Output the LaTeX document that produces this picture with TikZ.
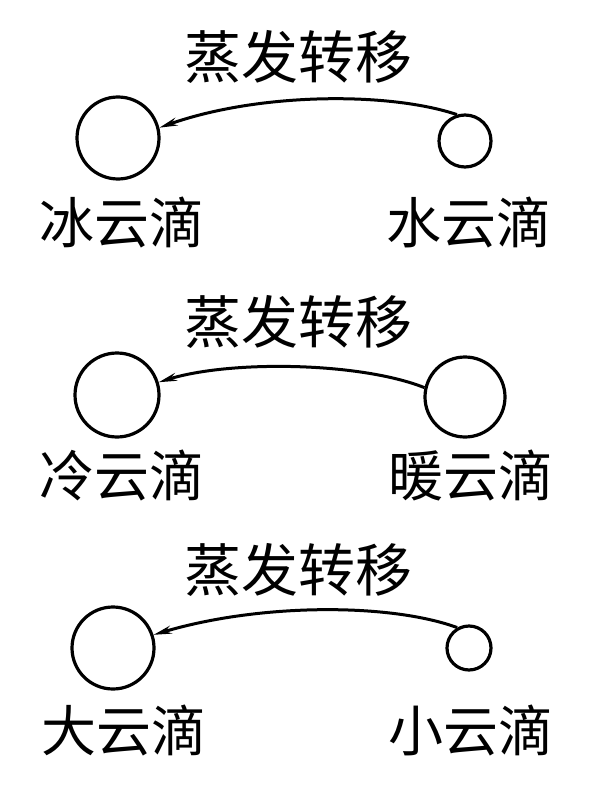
\documentclass[tikz,border=0pt]{standalone}
\usepackage{fontspec}
\newfontfamily\cjk{Noto Sans CJK SC}
\usetikzlibrary{arrows.meta}
\begin{document}
\begin{tikzpicture}[x=1pt,y=-1pt,
  drop/.style={circle,draw,line width=3.2pt,inner sep=0pt,minimum size=#1},
  lbl/.style={inner sep=0pt,font=\cjk\fontsize{55}{55}\selectfont},
  ttl/.style={inner sep=0pt,font=\cjk\fontsize{57}{57}\selectfont},
  flow/.style={line width=3pt,-{Stealth[length=18pt,width=8pt]}}]
\useasboundingbox[fill=white] (0,0) rectangle (598,786);
% panel 1
\node[ttl] (t1) at (298,57) {蒸发转移};
\node[drop=82pt] (a1) at (118,138) {};
\node[drop=52pt] (b1) at (465,141) {};
\node[lbl] (la1) at (122,222) {冰云滴};
\node[lbl] (lb1) at (469,222) {水云滴};
\draw[flow] (b1.107) .. controls (390,92) and (260,92) .. (a1.14);
% panel 2
\node[ttl] (t2) at (298,322) {蒸发转移};
\node[drop=84pt] (a2) at (117,395) {};
\node[drop=80pt] (b2) at (465,397) {};
\node[lbl] (la2) at (122,475) {冷云滴};
\node[lbl] (lb2) at (471,475) {暖云滴};
\draw[flow] (b2.167) .. controls (360,362) and (230,360) .. (a2.17);
% panel 3
\node[ttl] (t3) at (298,570) {蒸发转移};
\node[drop=82pt] (a3) at (113,648) {};
\node[drop=44pt] (b3) at (469,648) {};
\node[lbl] (la3) at (124,730) {大云滴};
\node[lbl] (lb3) at (471,730) {小云滴};
\draw[flow] (b3.120) .. controls (390,603) and (260,603) .. (a3.18);
\end{tikzpicture}
\end{document}
